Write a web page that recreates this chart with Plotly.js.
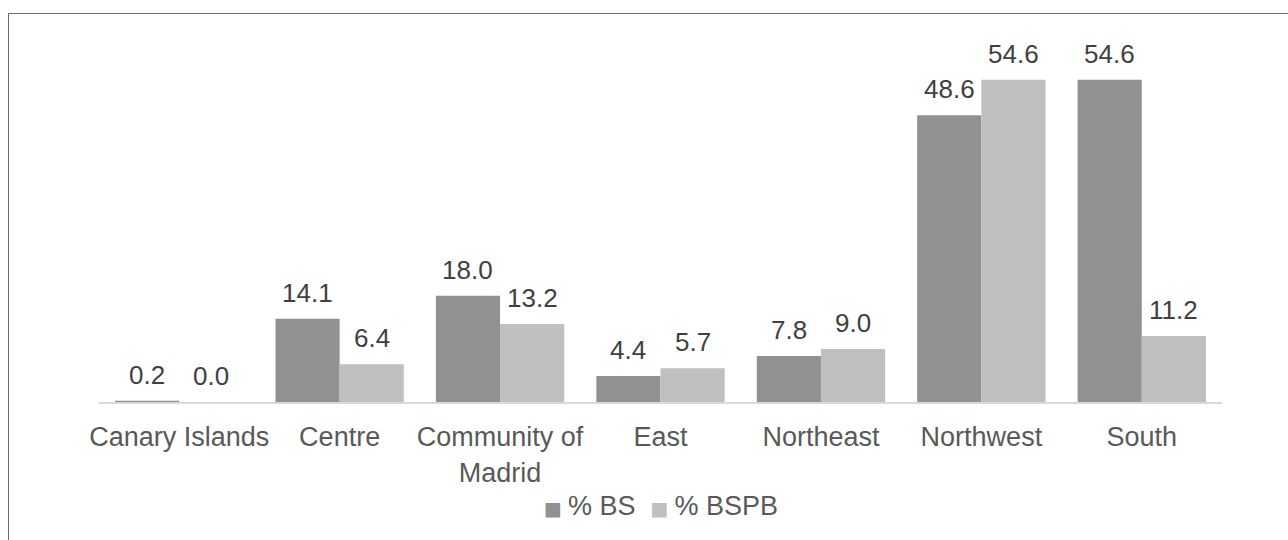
<!DOCTYPE html>
<html>
<head>
<meta charset="utf-8">
<script src="https://cdn.plot.ly/plotly-3.0.1.min.js"></script>
<style>
  html, body { margin: 0; padding: 0; background: #ffffff; overflow: hidden; }
  #chart { position: absolute; left: 0; top: 0; width: 1288px; height: 540px; }
  #frame { position: absolute; left: 8px; top: 13px; width: 1400px; height: 700px;
           border: 1.3px solid #6f6f6f; pointer-events: none; }
</style>
</head>
<body>
<div id="chart"></div>
<div id="frame"></div>
<script>
const categories = ["Canary Islands", "Centre", "Community of<br>Madrid", "East", "Northeast", "Northwest", "South"];
const seriesNames = ["% BS", "% BSPB"];
const bsValues = [0.2, 14.1, 18.0, 4.4, 7.8, 48.6, 54.6];
const bspbValues = [0.0, 6.4, 13.2, 5.7, 9.0, 54.6, 11.2];
const seriesColors = ["#919191", "#bfbfbf"];

const FONT = "Liberation Sans, Arial, sans-serif";
const BARGAP = 0.2;
const series = [bsValues, bspbValues];

const traces = series.map((vals, s) => ({
  type: "bar", name: seriesNames[s], x: categories, y: vals,
  marker: { color: seriesColors[s] }, hoverinfo: "skip", showlegend: false
}));

// value labels placed over each bar via the axis scales
const nSeries = series.length;
const barW = (1 - BARGAP) / nSeries;
const annotations = [];
series.forEach((vals, s) => {
  vals.forEach((v, i) => {
    annotations.push({
      xref: "x", yref: "y", x: i - (1 - BARGAP) / 2 + barW * (s + 0.5), y: v,
      text: v.toFixed(1), showarrow: false, yanchor: "bottom", yshift: 9,
      font: { family: FONT, size: 26, color: "#404040" }
    });
  });
});

// legend line
const legendText = seriesNames.map((n, s) =>
  `<span style="color:${seriesColors[s]};font-size:19px;font-family:DejaVu Sans">■ </span>${n}`
).join("  ");
annotations.push({
  xref: "paper", yref: "paper", x: 0.5, y: -0.295, xanchor: "center", yanchor: "middle",
  text: legendText, showarrow: false, font: { family: FONT, size: 27, color: "#595959" }
});

const layout = {
  width: 1288, height: 540,
  margin: { l: 99, r: 66, t: 48, b: 138 },
  paper_bgcolor: "rgba(0,0,0,0)", plot_bgcolor: "rgba(0,0,0,0)",
  barmode: "group", bargap: BARGAP, bargroupgap: 0,
  font: { family: FONT, size: 27, color: "#595959" },
  xaxis: { type: "category", showline: true, linecolor: "#d9d9d9", linewidth: 2,
           ticks: "", showgrid: false, ticklabelstandoff: 10,
           tickfont: { family: FONT, size: 27, color: "#595959" } },
  yaxis: { range: [0, 60], visible: false, showgrid: false, zeroline: false },
  showlegend: false,
  annotations: annotations
};

Plotly.newPlot("chart", traces, layout, { displayModeBar: false, staticPlot: true });
</script>
</body>
</html>
